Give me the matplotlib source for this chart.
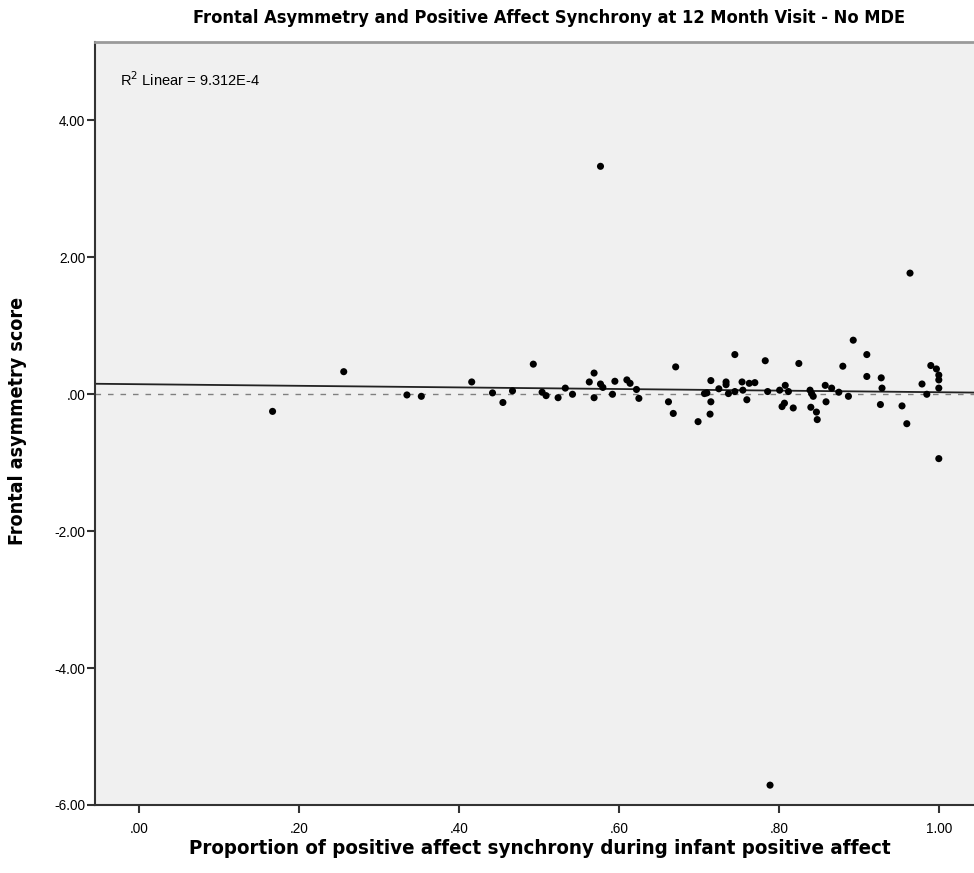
import matplotlib
matplotlib.use("Agg")
import matplotlib.pyplot as plt
import numpy as np

# proportion of positive affect synchrony (x) and frontal asymmetry score (y)
sync = [0.167, 0.256, 0.335, 0.353, 0.416, 0.442, 0.455, 0.467, 0.493, 0.504,
        0.509, 0.524, 0.533, 0.542, 0.563, 0.569, 0.569, 0.577, 0.580, 0.592,
        0.595, 0.610, 0.614, 0.622, 0.625, 0.662, 0.668, 0.671, 0.699, 0.707,
        0.710, 0.715, 0.715, 0.714, 0.725, 0.734, 0.734, 0.737, 0.745, 0.745,
        0.754, 0.755, 0.760, 0.763, 0.770, 0.783, 0.786, 0.801, 0.804, 0.807,
        0.808, 0.812, 0.818, 0.825, 0.839, 0.841, 0.843, 0.840, 0.847, 0.848,
        0.858, 0.859, 0.866, 0.875, 0.880, 0.887, 0.893, 0.910, 0.910, 0.928,
        0.929, 0.927, 0.954, 0.960, 0.964, 0.979, 0.985, 0.990, 0.997, 1.000,
        1.000, 1.000, 1.000, 0.577, 0.789]
asym = [-0.25, 0.33, -0.01, -0.03, 0.18, 0.02, -0.12, 0.05, 0.44, 0.03,
        -0.02, -0.05, 0.09, 0.00, 0.18, 0.31, -0.05, 0.15, 0.10, 0.00,
        0.19, 0.21, 0.16, 0.07, -0.06, -0.11, -0.28, 0.40, -0.40, 0.01,
        0.02, 0.20, -0.11, -0.29, 0.08, 0.18, 0.14, 0.01, 0.58, 0.04,
        0.18, 0.06, -0.08, 0.16, 0.17, 0.49, 0.04, 0.06, -0.18, -0.13,
        0.13, 0.04, -0.20, 0.45, 0.06, 0.01, -0.03, -0.19, -0.26, -0.37,
        0.13, -0.11, 0.09, 0.03, 0.41, -0.03, 0.79, 0.58, 0.26, 0.24,
        0.09, -0.15, -0.17, -0.43, 1.77, 0.15, 0.00, 0.42, 0.37, 0.28,
        0.21, 0.09, -0.94, 3.33, -5.71]

# fit line
intercept = 0.147
slope = -0.117

xticks = [0.0, 0.2, 0.4, 0.6, 0.8, 1.0]
xticklabels = [".00", ".20", ".40", ".60", ".80", "1.00"]
yticks = [-6, -4, -2, 0, 2, 4]
yticklabels = ["-6.00", "-4.00", "-2.00", ".00", "2.00", "4.00"]

plt.rcParams["font.family"] = ["Liberation Sans", "DejaVu Sans"]
head = dict(fontweight="bold", family=["DejaVu Sans"], fontstretch="condensed",
            ha="center", va="center")

fig = plt.figure(figsize=(9.74, 8.73), dpi=100)
ax = fig.add_axes([95 / 974, (873 - 805) / 873, (974 - 95) / 974, (805 - 42) / 873])
ax.set_facecolor("#f0f0f0")

xmin, xmax = -0.055, 1.044
ax.set_xlim(xmin, xmax)
ax.set_ylim(-6, 5.146)

ax.axhline(0, color="#808080", lw=1, ls=(0, (4, 5)), zorder=1)
xs = np.array([xmin, xmax])
ax.plot(xs, intercept + slope * xs, color="#222222", lw=1.3, zorder=2)
ax.scatter(sync, asym, s=26, color="black", edgecolors="none", zorder=3)

ax.set_xticks(xticks)
ax.set_xticklabels(xticklabels)
ax.set_yticks(yticks)
ax.set_yticklabels(yticklabels)
ax.tick_params(axis="both", length=6, width=1.5, color="#333333", labelsize=9.8, labelcolor="black")
ax.tick_params(axis="x", pad=6)
ax.tick_params(axis="y", pad=1)

for s in ["left", "bottom"]:
    ax.spines[s].set_color("#333333")
    ax.spines[s].set_linewidth(1.5)
ax.spines["top"].set_color("#9a9a9a")
ax.spines["top"].set_linewidth(2)
ax.spines["right"].set_visible(False)

fig.text(120 / 974, 1 - 80 / 873, r"R$^2$ Linear = 9.312E-4", fontsize=10.5,
         ha="left", va="center")

fig.text(0.564, 1 - 18 / 873, "Frontal Asymmetry and Positive Affect Synchrony at 12 Month Visit - No MDE",
         fontsize=13.1, **head)
fig.text(0.5545, 1 - 848 / 873, "Proportion of positive affect synchrony during infant positive affect",
         fontsize=14.7, **head)
fig.text(18 / 974, 1 - 421 / 873, "Frontal asymmetry score", rotation=90,
         fontsize=14.1, **head)

fig.savefig("out.png", dpi=100)
